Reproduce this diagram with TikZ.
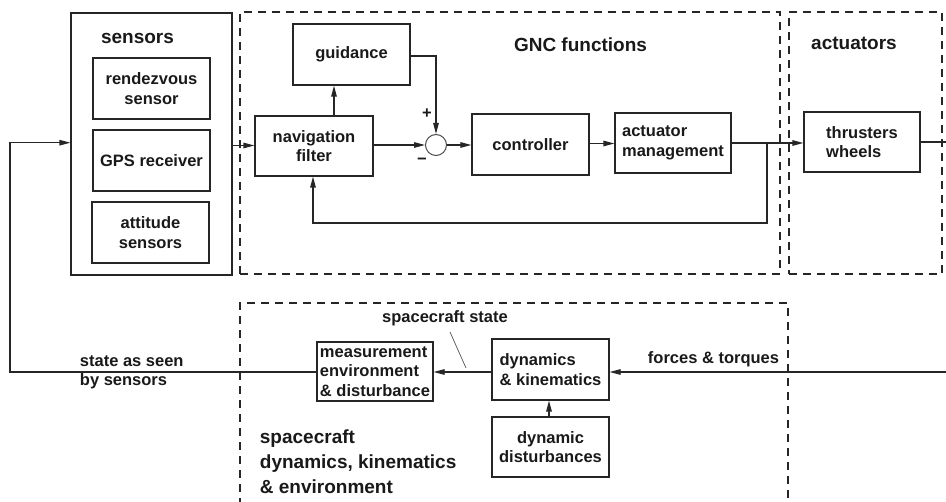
\documentclass[tikz,border=0pt]{standalone}
\usepackage{fontspec}
\setmainfont{Liberation Sans}
\usetikzlibrary{arrows.meta}
\begin{document}
\begin{tikzpicture}[x=1pt,y=-1pt,
  line width=1.2pt, draw=black!85,
  txt/.style={font=\fontsize{16.5}{19.5}\selectfont\bfseries, text=black!90},
  ttl/.style={font=\fontsize{19}{25}\selectfont\bfseries, text=black!90},
  blk/.style={txt, draw, rectangle, inner sep=0pt, align=center},
  blkl/.style={blk, align=left},
  grp/.style={draw, dash pattern=on 8pt off 6pt, line width=1.1pt, inner sep=0pt},
  arr/.style={-{Triangle[length=11pt,width=5.5pt]}},
]
\useasboundingbox (0,0) rectangle (946,502);

% group frames
\node[draw, line width=1.2pt, minimum width=161pt, minimum height=262pt, inner sep=0pt] (sensors) at (151.5,144) {};
\node[grp, minimum width=540pt, minimum height=262pt] (gnc) at (510,143) {};
\node[grp, minimum width=153pt, minimum height=262pt] (act) at (865.5,143) {};
\draw[dash pattern=on 8pt off 6pt, line width=1.1pt] (240,506) -- (240,303) -- (788,303) -- (788,506);

% group titles
\node[ttl] (sensorsT) at (137.5,38) {sensors};
\node[ttl] (gncT) at (580.5,45) {GNC functions};
\node[ttl] (actT) at (854,43) {actuators};
\node[ttl, anchor=west, align=left] (scT) at (256,462) {spacecraft\\dynamics, kinematics\\\& environment};

% sensor blocks
\node[blk, minimum width=117pt, minimum height=61pt] (rdv) at (151.5,88.5) {rendezvous\\sensor};
\node[blk, minimum width=117pt, minimum height=61pt] (gps) at (151.5,160.5) {GPS receiver};
\node[blk, minimum width=117pt, minimum height=61pt] (att) at (150.5,232.5) {attitude\\sensors};

% GNC blocks
\node[blk, minimum width=117pt, minimum height=61pt] (guid) at (351.5,54.5) {guidance};
\node[blk, minimum width=118pt, minimum height=60pt] (nav) at (314,146) {navigation\\filter};
\node[draw=black!70, line width=1pt, circle, minimum size=21pt, inner sep=0pt] (sum) at (436,145) {};
\node[blk, minimum width=117pt, minimum height=61pt] (ctrl) at (530.5,144.5) {controller};
\node[blkl, minimum width=116pt, minimum height=60pt] (amgmt) at (673,143) {actuator\\management};

% actuators
\node[blkl, minimum width=116pt, minimum height=60pt] (thr) at (862,142) {thrusters\\wheels};

% dynamics blocks
\node[blkl, minimum width=116pt, minimum height=59pt] (meas) at (375,371.5) {measurement\\environment\\\& disturbance};
\node[blkl, minimum width=117pt, minimum height=61pt] (dyn) at (550.5,369.5) {dynamics\\\& kinematics};
\node[blk, minimum width=117pt, minimum height=60pt] (dist) at (550.5,447) {dynamic\\disturbances};

% signs at the summing junction
\node[txt] (plus) at (427,114) {+};
\node[txt] (minus) at (422,161) {\char"2212};

% signal labels
\node[txt] (scstate) at (445,318) {spacecraft state};
\node[txt, anchor=west, align=left] (seen) at (76,372.5) {state as seen\\by sensors};
\node[txt] (forces) at (713.5,359) {forces \& torques};

% free ends and corners
\coordinate (branch) at (767,143);
\coordinate (fb) at (313,223);
\coordinate (thrOut) at (946,142);
\coordinate (fin) at (946,372);
\coordinate (loop) at (10,372);
\coordinate (leadA) at (450,332);
\coordinate (leadB) at (466,368);

% GNC signal flow
\draw[arr] (sensors.east |- 0,145.5) -- (nav.west |- 0,145.5);
\draw[arr] ([xshift=20pt]nav.north) -- ([xshift=20pt]nav.north |- guid.south);
\draw[arr] (guid.east |- 0,56) -| (sum.north);
\draw[arr] (nav.east |- sum.west) -- (sum.west);
\draw[arr] (sum.east) -- (sum.east -| ctrl.west);
\draw[arr] (ctrl.east |- 0,143.5) -- (amgmt.west |- 0,143.5);
\draw[arr] (amgmt.east) -- (thr.west |- amgmt.east);
\draw[arr] (branch) |- (fb) -- (fb |- nav.south);
\draw (thr.east) -- (thrOut);

% plant signal flow
\draw[arr] (fin) -- (fin -| dyn.east);
\draw[arr] (dyn.west |- fin) -- (meas.east |- fin);
\draw[arr] (meas.west |- fin) -- (loop) |- (sensors.west |- 0,142.7);
\draw[arr] (dist.north -| 549,0) -- (dyn.south -| 549,0);
\draw[black!60, line width=0.8pt] (leadA) -- (leadB);
\end{tikzpicture}
\end{document}
